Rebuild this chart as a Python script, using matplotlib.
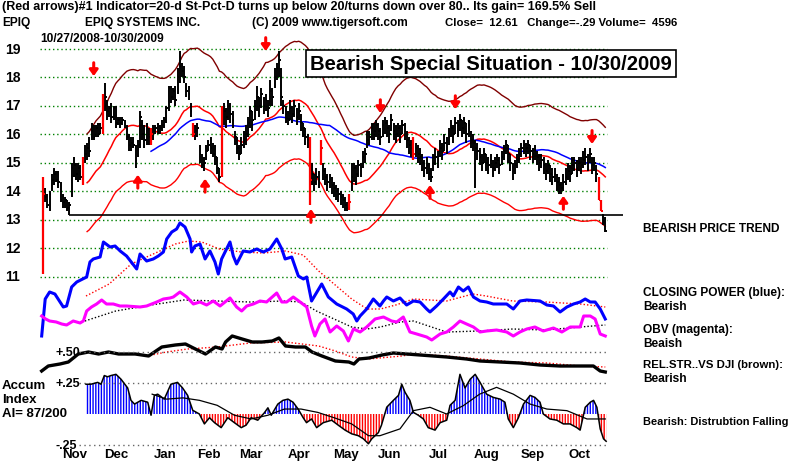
import numpy as np
import pandas as pd
import matplotlib
matplotlib.use("Agg")
import matplotlib.pyplot as plt

# ---------------- data ----------------
lows = [11.1,13.6,13.4,13.3,14.0,14.2,14.3,14.1,13.6,13.4,
        13.4,13.3,13.15,13.8,14.5,14.4,14.3,14.4,14.2,15.0,
        15.1,15.2,15.8,15.8,15.9,15.9,16.0,16.0,16.8,16.5,
        16.6,16.4,16.5,16.2,16.3,16.2,16.3,16.2,15.8,15.4,
        15.4,15.5,14.8,15.2,15.5,15.8,15.5,15.6,15.6,15.6,
        15.8,16.0,16.0,16.0,16.1,16.2,16.4,16.8,17.1,17.2,
        17.0,17.4,17.8,18.0,17.8,17.3,17.2,16.6,15.9,15.8,
        15.9,15.0,14.8,14.7,15.1,15.4,15.3,15.2,14.9,14.6,
        14.3,14.5,16.3,16.2,16.5,16.4,16.2,15.6,15.3,15.1,
        15.3,15.5,15.6,15.9,16.2,16.1,16.5,16.8,16.6,16.9,
        16.7,16.8,16.6,17.0,17.0,17.6,17.9,18.0,17.0,16.7,
        16.4,16.3,16.5,16.4,16.6,16.3,16.5,16.1,15.9,15.6,
        15.5,13.5,14.2,14.0,14.2,14.1,14.9,14.4,14.2,14.0,
        14.1,13.9,13.8,13.7,13.6,13.5,13.4,13.3,13.3,13.35,
        14.0,14.3,14.2,14.5,14.5,14.8,15.0,15.5,15.6,15.8,
        15.8,15.9,15.8,15.6,15.9,16.0,15.9,15.7,16.1,15.8,
        15.7,15.9,15.7,16.0,15.8,15.5,15.3,15.2,15.1,15.2,
        15.0,14.9,14.7,14.5,14.6,14.4,14.3,14.7,14.9,14.8,
        15.2,15.1,15.4,15.3,15.6,15.9,15.7,16.0,15.9,16.1,
        15.9,16.0,15.7,15.9,15.5,15.4,14.1,15.1,14.9,14.7,
        15.0,14.7,14.6,14.8,14.5,14.7,14.8,14.6,14.9,15.1,
        15.3,15.0,14.7,14.4,14.6,14.8,15.0,15.2,15.3,15.2,
        15.3,15.1,15.0,15.1,14.9,14.7,14.8,14.6,14.4,14.6,
        14.3,14.2,14.3,14.0,13.9,13.9,14.0,14.2,14.4,14.3,
        14.6,14.7,14.5,14.7,14.6,14.8,14.9,14.7,15.0,14.6,
        14.7,14.3,13.7,13.3,12.8,12.55]
highs = [14.5,14.1,13.9,14.0,14.6,14.8,14.7,14.7,14.3,13.9,
         13.8,13.7,13.6,15.0,15.2,15.0,15.0,14.9,15.2,15.6,
         15.7,15.9,16.4,16.3,16.3,16.4,16.4,17.4,17.8,17.2,
         17.0,17.1,17.0,17.0,16.6,16.6,16.6,16.5,16.3,16.0,
         15.9,15.9,15.6,15.8,16.8,16.5,16.3,16.4,16.2,16.2,
         16.3,16.3,16.4,16.3,16.5,16.6,17.0,17.7,17.7,17.6,
         17.7,18.3,18.9,18.5,18.4,17.8,17.7,17.1,16.4,16.3,
         16.4,15.6,15.3,15.2,15.6,15.8,15.9,15.7,15.6,15.2,
         14.8,17.0,17.1,16.9,17.2,17.1,16.8,16.1,15.9,15.6,
         15.9,16.1,16.3,16.6,17.0,16.8,17.2,17.7,17.3,17.6,
         17.3,17.4,17.2,17.9,17.6,18.3,18.5,18.9,18.3,17.2,
         17.0,16.8,17.2,17.0,17.2,16.9,17.1,16.7,16.4,16.2,
         16.0,15.9,15.0,14.6,14.8,14.7,15.8,15.0,14.8,14.6,
         14.6,14.5,14.3,14.2,14.1,14.0,13.9,13.8,13.6,13.9,
         15.0,15.0,14.9,15.1,15.0,15.4,15.5,16.1,16.1,16.4,
         16.4,16.5,16.4,16.2,16.5,16.6,16.5,16.3,16.7,16.4,
         16.3,16.4,16.3,16.5,16.4,16.1,15.9,15.8,15.9,15.7,
         15.6,15.5,15.3,15.1,15.2,15.0,14.8,15.3,15.5,15.4,
         15.8,15.7,16.0,15.9,16.2,16.5,16.3,16.6,16.5,16.7,
         16.5,16.6,16.4,16.5,16.1,16.0,15.8,15.7,15.5,15.3,
         15.5,15.3,15.2,15.3,15.1,15.2,15.3,15.2,15.4,15.6,
         15.8,15.6,15.3,15.0,15.1,15.3,15.5,15.7,15.8,15.7,
         15.8,15.6,15.5,15.6,15.4,15.3,15.3,15.2,15.0,15.1,
         14.9,14.8,14.8,14.6,14.5,14.3,14.6,14.8,15.0,14.9,
         15.2,15.2,15.1,15.2,15.2,15.4,15.5,15.3,15.5,15.2,
         15.2,14.9,14.5,13.7,13.2,13.1]
closes = [13.9,13.8,13.5,13.9,14.4,14.6,14.4,14.3,13.7,13.6,
          13.7,13.4,13.5,14.8,14.9,14.6,14.8,14.5,15.0,15.3,
          15.5,15.4,16.1,15.9,16.2,16.0,16.2,17.2,17.3,16.8,
          16.9,16.6,16.9,16.4,16.5,16.4,16.5,16.3,15.9,15.6,
          15.7,15.6,15.1,15.6,16.6,16.0,15.8,16.2,15.9,16.0,
          16.1,16.2,16.1,16.2,16.3,16.5,16.9,17.6,17.3,17.5,
          17.2,18.0,18.4,18.2,18.0,17.5,17.4,16.8,16.0,16.1,
          16.2,15.3,14.9,15.0,15.4,15.6,15.5,15.3,15.2,14.8,
          14.5,16.7,16.8,16.6,17.0,16.7,16.5,15.9,15.5,15.3,
          15.6,15.8,16.0,16.4,16.8,16.5,17.0,17.3,17.0,17.4,
          17.0,17.2,16.9,17.5,17.3,18.0,18.3,18.6,17.3,17.0,
          16.7,16.5,16.9,16.7,17.0,16.6,16.8,16.4,16.2,15.9,
          15.8,14.4,14.6,14.3,14.5,14.4,15.5,14.7,14.5,14.3,
          14.4,14.2,14.1,14.0,13.9,13.8,13.7,13.5,13.4,13.6,
          14.5,14.8,14.6,14.9,14.8,15.2,15.3,15.8,15.9,16.2,
          16.1,16.3,16.1,15.9,16.3,16.4,16.2,16.0,16.5,16.1,
          16.0,16.2,16.0,16.3,16.1,15.8,15.6,15.5,15.3,15.5,
          15.3,15.2,15.0,14.8,14.9,14.6,14.5,15.0,15.2,15.1,
          15.5,15.4,15.7,15.6,15.9,16.2,16.0,16.4,16.3,16.5,
          16.2,16.4,16.0,16.3,15.8,15.7,15.5,15.4,15.2,15.0,
          15.3,15.0,14.9,15.1,14.8,15.0,15.1,14.9,15.2,15.4,
          15.6,15.3,15.0,14.7,14.9,15.1,15.3,15.5,15.6,15.5,
          15.6,15.4,15.3,15.4,15.2,15.0,15.1,14.9,14.7,14.9,
          14.6,14.5,14.6,14.3,14.2,14.1,14.3,14.5,14.7,14.6,
          14.9,15.0,14.8,15.0,14.9,15.1,15.2,15.0,15.3,14.9,
          15.0,14.6,13.7,13.3,12.9,12.61]
red_days = [0, 18, 27, 49, 68, 81, 121, 126, 139, 168, 252, 253]

down_arrow_days = [23, 101, 153, 187, 249]
down_arrow_prices = [18.28, 19.16, 16.98, 17.12, 15.9]
up_arrow_days = [43, 73.5, 121.5, 175.5, 236]
up_arrow_prices = [14.32, 14.18, 13.12, 13.96, 13.58]

support_level = 13.15
support_start = 12

# Closing power (blue), sampled readings
cp_days = [-0.6,1,3,5.4,9.2,10.7,13,15.3,19.8,21.3,22.8,25.9,27.4,30.4,32.7,35,37.9,42.5,44,47,50,52.3,54.6,56.1,58.4,60.6,62.1,64.4,66.7,67.4,68.9,71.2,73.5,75.7,78,79.5,81,84.8,86.3,87.8,90.8,93.8,96.9,99.9,102.9,106,108.3,109.8,112.8,115.8,118.1,119.6,121.8,126.4,129.4,133.2,137.7,140.7,142.3,143.8,146.8,149.8,152.8,154.4,155.9,158.9,161.9,164.9,168,171,174,175.5,178.5,181.6,184.6,186.1,188.4,190.6,192.9,195.2,198.2,201.2,204.2,207.3,210.3,213.3,216.3,219.4,225.4,228.5,231.5,234.5,237.6,240.6,243.6,245.9,248.2,250.4,252.7,255]
cp_vals = [63,100,107,105,92,93,112,117,122,137,140,142,157,152,153,148,143,130,145,138,140,143,147,160,167,170,176,172,160,147,153,155,140,148,137,125,140,157,143,135,148,147,150,147,150,160,150,140,142,123,120,122,98,115,102,95,90,85,78,83,90,100,93,98,102,98,101,94,98,97,90,87,93,100,107,103,112,108,112,102,98,97,95,95,95,90,98,99,98,94,93,87,92,95,97,100,97,97,90,80]
cp_ma_days = [19.5,30,40,50,60,66,72,80,90,100,110,118,125,132,140,147,153,160,168,183,195,201,213,228,243.6,255]
cp_ma_vals = [103,115,135,145,155,158,157,150,147,146,148,144,128,115,100,90,90,94,100,98,105,103,98,97,95,92]

# OBV (magenta)
obv_days = [-0.6,1.2,3,6,8.5,10.7,13.7,16.8,18.3,19.8,22,24.3,26.6,28.8,31.9,34.9,37.9,44,47,51.6,54.6,57.6,59.1,62.1,65.2,68.2,71.2,74.2,77.2,80.3,84.8,87.8,90.1,92.4,95.4,98.4,101.4,106,108.3,110.5,113.5,116.6,119.6,121.8,123.3,125.6,127.9,130.2,133.2,136.2,138.5,140.8,143.8,146.8,150.6,154.4,158.1,160.4,163.4,166.4,169.5,174,176.3,180.1,183.1,186.1,189.1,192.1,195.2,198.2,201.2,205.7,210.3,213.3,216.3,219.4,223.1,226.9,231.5,235.3,239.1,243.6,245.2,248.2,250.4,252.7,255]
obv_vals = [83,80,78,77,75,74,78,76,78,88,92,95,99,95,95,93,93,92,93,97,100,101,102,107,102,95,97,94,98,93,101,92,88,93,95,98,97,106,97,97,102,97,92,73,63,75,80,67,73,68,58,70,67,72,80,82,78,77,82,67,65,62,59,65,67,72,78,75,72,67,68,69,67,63,67,70,72,68,71,67,72,72,83,83,80,65,63]
obv_ma_days = [19,33,49,64,79,94,109.5,117,124,132,140,147,153,162,168,183,198,213,228,243.6,255]
obv_ma_vals = [78,88,94,99,98,97,98,97,88,80,72,70,72,77,78,67,68,70,69,72,74]

# Relative strength vs DJI (black)
rs_days = [-0.6,2.4,7.7,11.5,16,20.6,25.2,29.7,34.3,41.8,47.9,53.9,60,64.6,69.1,73.7,78.2,81.2,82.8,85.8,90.3,94.9,99.4,104,107,110,114.5,119,122,126.5,132.6,138.7,141,143.3,147.8,153.8,158.9,164.9,171,183.1,192.1,198.2,207.3,216.3,225.4,234.5,243.6,249.6,252.7,255]
rs_vals = [28,33,35,37,45,47,45,47,45,45,43,52,54,55,50,45,52,50,57,63,60,57,57,58,61,53,52,52,47,43,38,37,35,40,41,44,46,45,44,42,40,38,37,36,34,33,33,33,28,27]
rs_ma_days = [47,56,65.6,79,94,110,125,132.6,140,147.6,162.7,168,183,198,213,228.5,243.6,255]
rs_ma_vals = [43,47,50,52,56,57,53,48,42,40,43,45,43,40,37,36,33,32]

# Accumulation index
ai_days = [19.5,21.7,24.8,26.3,27.8,29.3,30.8,33.1,35.4,38.4,39.9,41.5,44.5,47.5,49,50.5,52,55,58,61,63.3,65.6,67.9,70.9,73.2,75.5,77.8,80.8,83.8,86.8,89.9,92.1,94.4,97.4,100.4,102,103.5,106.5,108.8,111.1,113.4,115.7,118,119.5,121.8,124.1,127.1,130.9,133.9,137,140,143,145.3,147.6,149.1,152.1,153.5,155.9,158.9,161.2,162.7,164.2,166.4,168,170.2,172.5,174.7,177.8,180.1,183.1,184.6,186.9,189.1,191.4,193.7,196,198.2,201.2,204.2,207.3,209.5,211,213.3,215.6,217.9,220.9,223.1,225.4,226.9,229.9,233,236,239,242.1,243.6,245.9,248.2,249.7,251.2,252.7,254.2,255.4]
ai_vals = [0.24,0.24,0.255,0.24,0.31,0.30,0.31,0.32,0.28,0.21,0.11,0.08,0.11,0.095,-0.01,0.15,0.16,0.12,0.24,0.255,0.21,0.15,0.03,0.0,-0.08,-0.03,-0.07,-0.11,-0.03,-0.07,-0.11,-0.09,-0.03,-0.05,0.01,0.05,-0.01,0.08,0.11,0.12,0.095,0.04,-0.03,-0.07,-0.04,-0.11,-0.07,-0.05,-0.09,-0.13,-0.16,-0.175,-0.20,-0.24,-0.20,-0.15,-0.09,0.055,0.11,0.15,0.24,0.175,0.11,0.013,-0.01,-0.04,-0.11,-0.13,-0.07,-0.05,0.07,0.11,0.32,0.21,0.28,0.32,0.255,0.16,0.134,0.12,0.095,-0.04,-0.11,-0.03,0.08,0.15,0.134,0.095,0.0,-0.04,-0.05,-0.08,-0.08,-0.11,-0.13,0.054,0.095,0.11,0.054,-0.12,-0.20,-0.22]
ai_ma_days = [49.5,56,63.5,71,79,86.8,94.4,102,109.5,117,124.6,132,140,147.6,152.8,161.9,168,175.5,183,190.6,198,205.7,213.3,220.9,228.5,237.6,246.7,255]
ai_ma_vals = [0.16,0.12,0.13,0.11,0.07,-0.01,-0.04,-0.01,0.04,0.04,0.013,-0.03,-0.08,-0.175,-0.175,-0.12,0.027,0.054,0.0,0.067,0.16,0.215,0.16,0.08,0.04,0.027,-0.04,-0.04]

price_ticks = [19, 18, 17, 16, 15, 14, 13, 12, 11]
month_labels = ["Nov", "Dec", "Jan", "Feb", "Mar", "Apr", "May", "Jun", "Jul", "Aug", "Sep", "Oct"]
month_start_days = [5, 24, 46, 66, 85, 107, 128, 148, 170, 192, 213, 234]
ai_levels = [0.50, 0.25, -0.25]
ai_level_labels = ["+.50", "+.25", "-.25"]

# ---------------- layout ----------------
W, H = 791, 464
X0, DX = 43.0, 2.205          # pixel of day 0, pixels per day
PY19, PPU = 49.5, 28.5        # pixel row of price 19, pixels per dollar
XL = ((0 - X0) / DX, (W - X0) / DX)

fig = plt.figure(figsize=(W / 100, H / 100), dpi=100)
fig.patch.set_facecolor("white")

def full_axes(ylim):
    a = fig.add_axes([0, 0, 1, 1], facecolor="none")
    a.set_xlim(*XL)
    a.set_ylim(*ylim)
    a.axis("off")
    return a

ax = full_axes((19 - (H - PY19) / PPU, 19 + PY19 / PPU))
axh = full_axes((400 - H, 400))                      # indicator "height" units
axa = full_axes(((415 - H) / 124.0, 415 / 124.0))    # accumulation index units

FONT = "Liberation Sans"
def ptext(x, y, s, size=8.6, **kw):
    fig.text(x / W, 1 - y / H, s, fontsize=size, fontweight="bold",
             family=FONT, va="center", ha=kw.pop("ha", "left"), **kw)

# price gridlines
grid_end = 255.9
for p in price_ticks:
    ax.hlines(p, -1.4, grid_end, colors="#008000", lw=1.0, linestyles=(0, (1, 2)))

days = np.arange(len(closes))
c = pd.Series(closes)
ma21 = c.rolling(21).mean()
ma50 = c.rolling(50).mean()
ax.plot(days, ma21 * 1.12, color="#800000", lw=1.0)
ax.plot(days, ma21 * 0.88, color="#ff0000", lw=1.0)
ax.plot(days, ma21, color="#ff0000", lw=1.1)
ax.plot(days, ma50, color="#0000ff", lw=1.1)

# support line
ax.hlines(support_level, support_start, 263, colors="black", lw=1.2)

# bars
lows_a, highs_a, closes_a = np.array(lows), np.array(highs), np.array(closes)
is_red = np.isin(days, red_days)
ax.vlines(days[~is_red], lows_a[~is_red], highs_a[~is_red], colors="black", lw=1.4)
ax.hlines(closes_a[~is_red], days[~is_red], days[~is_red] + 0.8, colors="black", lw=1.4)
ax.vlines(days[is_red], lows_a[is_red], highs_a[is_red], colors="#ff0000", lw=1.6)
ax.hlines(closes_a[is_red], days[is_red], days[is_red] + 0.8, colors="#ff0000", lw=1.4)

# signal arrows
for d, p in zip(down_arrow_days, down_arrow_prices):
    ax.annotate("", xy=(d, p - 0.25), xytext=(d, p + 0.22),
                arrowprops=dict(arrowstyle="-|>,head_width=0.25,head_length=0.35",
                                color="#ff0000", lw=2.2, shrinkA=0, shrinkB=0))
for d, p in zip(up_arrow_days, up_arrow_prices):
    ax.annotate("", xy=(d, p + 0.25), xytext=(d, p - 0.22),
                arrowprops=dict(arrowstyle="-|>,head_width=0.25,head_length=0.35",
                                color="#ff0000", lw=2.2, shrinkA=0, shrinkB=0))

# indicators
axh.plot(cp_ma_days, cp_ma_vals, color="#ff0000", lw=1.0, linestyle=(0, (1, 1.5)))
axh.plot(cp_days, cp_vals, color="#0000ff", lw=2.2)
axh.plot(obv_ma_days, obv_ma_vals, color="black", lw=1.0, linestyle=(0, (1, 1.5)))
axh.plot(obv_days, obv_vals, color="#ff00ff", lw=2.2)
axh.plot(rs_ma_days, rs_ma_vals, color="#ff0000", lw=1.0, linestyle=(0, (1, 1.5)))
axh.plot(rs_days, rs_vals, color="black", lw=2.4)

# accumulation index
for lvl in ai_levels:
    axa.hlines(lvl, 16.5, grid_end, colors="#666666", lw=1.0, linestyles=(0, (1, 2.5)))
aid = np.array(ai_days); aiv = np.array(ai_vals)
axa.fill_between(aid, 0, aiv, where=aiv >= 0, interpolate=True, facecolor="none",
                 edgecolor="#0000ff", hatch="||||||", lw=0)
axa.fill_between(aid, 0, aiv, where=aiv <= 0, interpolate=True, facecolor="none",
                 edgecolor="#ff0000", hatch="||||||", lw=0)
axa.plot(aid, aiv, color="black", lw=1.1)
axa.plot(ai_ma_days, ai_ma_vals, color="black", lw=0.9)

# ---------------- text ----------------
ptext(2, 7, "(Red arrows)#1 Indicator=20-d St-Pct-D turns up below 20/turns down over 80.. Its gain= 169.5% Sell", size=9.0)
ptext(2, 23, "EPIQ")
ptext(85, 23, "EPIQ SYSTEMS INC.")
ptext(252, 23, "(C) 2009 www.tigersoft.com")
ptext(445, 23, "Close=  12.61   Change=-.29 Volume=  4596", size=8.2)
ptext(40, 39, "10/27/2008-10/30/2009")

for p in price_ticks:
    fig.text(5 / W, 1 - (PY19 + (19 - p) * PPU) / H, str(p), fontsize=10,
             fontweight="bold", family=FONT, va="center", ha="left")

for lbl, sd in zip(month_labels, month_start_days):
    fig.text((X0 + (sd + 9.3) * DX) / W, 1 - 455 / H, lbl, fontsize=9.5,
             fontweight="bold", family=FONT, va="center", ha="center")

for lvl, lbl in zip(ai_levels, ai_level_labels):
    fig.text(56 / W, 1 - (415 - lvl * 124) / H, lbl, fontsize=9,
             fontweight="bold", family=FONT, va="center", ha="left")

ptext(2, 386, "Accum", size=9.5)
ptext(2, 400, "Index", size=9.5)
ptext(2, 414, "AI= 87/200", size=9.5)

RS = 8.6
ptext(643, 229, "BEARISH PRICE TREND", size=RS)
ptext(643, 293, "CLOSING POWER (blue):", size=RS)
ptext(643, 307, "Bearish", size=RS)
ptext(643, 330, "OBV (magenta):", size=RS)
ptext(643, 344, "Beaish", size=RS)
ptext(643, 365, "REL.STR..VS DJI (brown):", size=8.2)
ptext(643, 379, "Bearish", size=RS)
ptext(643, 422, "Bearish: Distrubtion Falling", size=7.9)

fig.text(491 / W, 1 - 64.5 / H, "Bearish Special Situation - 10/30/2009",
         fontsize=14.6, fontweight="bold", family=FONT, ha="center", va="center",
         bbox=dict(boxstyle="square,pad=0.22", facecolor="white", edgecolor="black", lw=1.2))

fig.savefig("out.png", dpi=100, facecolor="white")
